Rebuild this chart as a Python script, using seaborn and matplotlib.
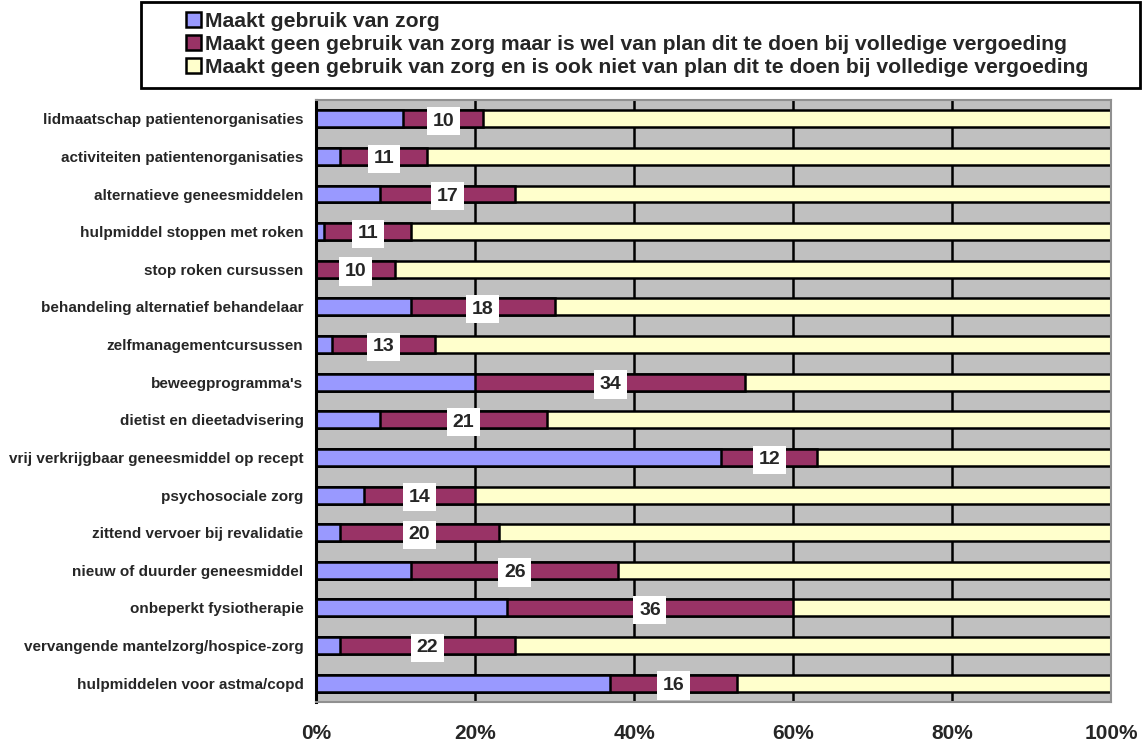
import numpy as np
import pandas as pd
import matplotlib
matplotlib.use("Agg")
import matplotlib.pyplot as plt
import matplotlib.patches as mpatches
import seaborn as sns

categories = [
    "lidmaatschap patientenorganisaties",
    "activiteiten patientenorganisaties",
    "alternatieve geneesmiddelen",
    "hulpmiddel stoppen met roken",
    "stop roken cursussen",
    "behandeling alternatief behandelaar",
    "zelfmanagementcursussen",
    "beweegprogramma's",
    "dietist en dieetadvisering",
    "vrij verkrijgbaar geneesmiddel op recept",
    "psychosociale zorg",
    "zittend vervoer bij revalidatie",
    "nieuw of duurder geneesmiddel",
    "onbeperkt fysiotherapie",
    "vervangende mantelzorg/hospice-zorg",
    "hulpmiddelen voor astma/copd",
]
gebruik = [11, 3, 8, 1, 0, 12, 2, 20, 8, 51, 6, 3, 12, 24, 3, 37]
van_plan = [10, 11, 17, 11, 10, 18, 13, 34, 21, 12, 14, 20, 26, 36, 22, 16]
series_names = [
    "Maakt gebruik van zorg",
    "Maakt geen gebruik van zorg maar is wel van plan dit te doen bij volledige vergoeding",
    "Maakt geen gebruik van zorg en is ook niet van plan dit te doen bij volledige vergoeding",
]
colors = ["#9999FF", "#993366", "#FFFFCC"]

df = pd.DataFrame({"cat": categories, "gebruik": gebruik, "van_plan": van_plan})
df["cum2"] = df["gebruik"] + df["van_plan"]
df["niet"] = 100 - df["cum2"]
df["cum3"] = df["cum2"] + df["niet"]

sns.set_style("white")
plt.rcParams["font.family"] = ["Liberation Sans", "DejaVu Sans"]

fig = plt.figure(figsize=(11.42, 7.46), dpi=100)
ax = fig.add_axes([0.2767, 0.059, 0.6962, 0.807])
ax.set_facecolor("#C0C0C0")

# stacked bars: draw cumulative totals back to front
bw = 0.45
sns.barplot(data=df, x="cum3", y="cat", color=colors[2], edgecolor="black",
            linewidth=1.8, width=bw, saturation=1, ax=ax)
sns.barplot(data=df, x="cum2", y="cat", color=colors[1], edgecolor="black",
            linewidth=1.8, width=bw, saturation=1, ax=ax)
sns.barplot(data=df, x="gebruik", y="cat", color=colors[0], edgecolor="black",
            linewidth=1.8, width=bw, saturation=1, ax=ax)

# value labels for middle series
for i, row in df.iterrows():
    ax.text(row["gebruik"] + row["van_plan"] / 2, i + 0.06, str(row["van_plan"]),
            ha="center", va="center", fontsize=14, fontweight="bold",
            bbox=dict(facecolor="white", edgecolor="none", pad=4))

ax.set_xlim(0, 100)
ax.set_ylim(15.5, -0.5)
ax.set_xticks([0, 20, 40, 60, 80, 100])
ax.set_xticklabels(["0%", "20%", "40%", "60%", "80%", "100%"],
                   fontsize=15, fontweight="bold")
ax.tick_params(axis="x", length=0, pad=16)
ax.set_yticks(range(len(categories)))
ax.set_yticklabels(categories, fontsize=11, fontweight="bold")
ax.tick_params(axis="y", which="major", length=0, pad=9)
ax.set_yticks(np.arange(-0.5, 16, 1), minor=True)
ax.tick_params(axis="y", which="minor", length=5, width=2, color="black", direction="out")
ax.set_xlabel("")
ax.set_ylabel("")

ax.grid(False)
for v in [20, 40, 60, 80]:
    ax.axvline(v, color="black", lw=1.8, zorder=0.5)
ax.set_axisbelow(True)

for s in ["top", "right", "bottom"]:
    ax.spines[s].set_color("#909090")
    ax.spines[s].set_linewidth(1.5)
    ax.spines[s].set_visible(True)
ax.spines["left"].set_color("black")
ax.spines["left"].set_linewidth(2.2)
ax.spines["left"].set_visible(True)

# legend box
W, H = 1142, 746
fig.patches.append(mpatches.Rectangle((141 / W, 1 - 88 / H), 999 / W, 86 / H,
                                      transform=fig.transFigure, facecolor="white",
                                      edgecolor="black", linewidth=2, zorder=0))
handles = [mpatches.Patch(facecolor=c, edgecolor="black", linewidth=1.8) for c in colors]
leg = fig.legend(handles, series_names, loc="upper left",
                 bbox_to_anchor=(186 / W, 1 - 12 / H),
                 prop={"weight": "bold", "size": 15.2},
                 frameon=False,
                 handlelength=0.72, handleheight=0.72, handletextpad=0.2,
                 labelspacing=0.18, borderpad=0, borderaxespad=0)

plt.savefig("out.png", dpi=100, facecolor="white")
